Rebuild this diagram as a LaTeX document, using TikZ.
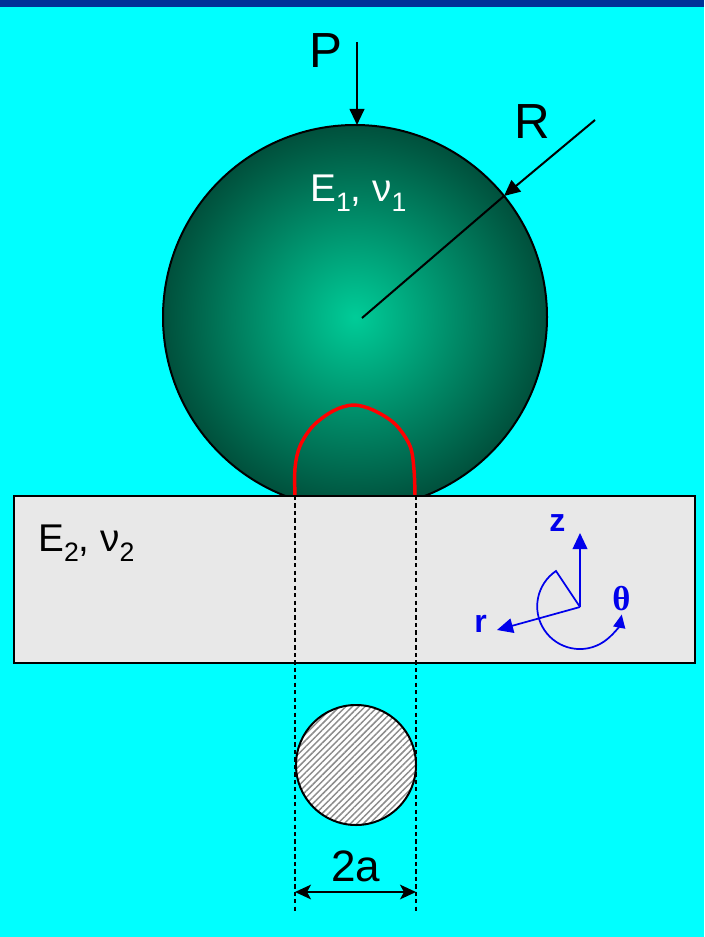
\documentclass[tikz,border=0pt]{standalone}
\usepackage{fontspec}
\setmainfont{Liberation Sans}
\newfontfamily\greekserif{Liberation Serif}
\usetikzlibrary{arrows.meta,patterns.meta}
\definecolor{bgcyan}{RGB}{0,255,255}
\definecolor{topbar}{RGB}{0,51,153}
\definecolor{ballin}{RGB}{0,204,152}
\definecolor{ballout}{RGB}{0,80,60}
\definecolor{slabgray}{RGB}{232,232,232}
\definecolor{axisblue}{RGB}{0,0,235}
% lowered subscript for the material labels
\newcommand\lowsub[1]{\raisebox{-7.5pt}{\fontsize{20}{20}\selectfont #1}}
\begin{document}
\begin{tikzpicture}[x=0.75pt,y=-0.75pt,
  blackline/.style={line width=1.5pt},
  bigtip/.style={-{Triangle[length=12pt,width=11pt]}},
  dimtip/.style={{Stealth[length=12pt,width=11pt,inset=3pt]}-{Stealth[length=12pt,width=11pt,inset=3pt]}},
  guide/.style={line width=1.1pt,dash pattern=on 3.2pt off 2.4pt},
  axis/.style={axisblue,line width=1.3pt,-{Triangle[length=12pt,width=11pt]}},
  biglabel/.style={inner sep=0pt,anchor=base west,font=\fontsize{37}{40}\selectfont},
  matlabel/.style={inner sep=0pt,anchor=base west,font=\fontsize{29}{32}\selectfont},
  axislabel/.style={inner sep=0pt,anchor=base west,text=axisblue,font=\bfseries\fontsize{24}{26}\selectfont}]
% background and top band
\fill[bgcyan] (0,0) rectangle (704,937);
\useasboundingbox (0,0) rectangle (704,937);
\fill[topbar] (0,0) rectangle (704,7);

% key points
\coordinate (C) at (355,317);
\coordinate (Ptop) at (357,42);
\coordinate (Pend) at (357,125);
\coordinate (Rout) at (595,120);
\coordinate (Redge) at (504,196);
\coordinate (Rin) at (362,318);
\coordinate (D) at (356,765);
\coordinate (gLa) at (295,496);
\coordinate (gLb) at (295,912);
\coordinate (gRa) at (416,496);
\coordinate (gRb) at (416,912);
\coordinate (dimL) at (295,892);
\coordinate (dimR) at (416,892);

% sphere
\shade[inner color=ballin, outer color=ballout] (C) circle[radius=144pt];
\draw[blackline] (C) circle[radius=144pt];

% contact zone boundary
\draw[red,line width=2.6pt,line join=round]
  plot[smooth,tension=0.55] coordinates {(295,496) (295,468) (300,446) (313,426) (333,411) (353,405) (373,410) (395,424) (410,446) (414,470) (415,496)};

% flat body
\draw[blackline,fill=slabgray] (14,496) rectangle (695,663);

% load and radius
\draw[blackline,bigtip] (Ptop) -- (Pend);
\node[biglabel] (lblP) at (309,68) {P};
\draw[blackline,bigtip] (Rout) -- (Redge);
\draw[blackline] (Redge) -- (Rin);
\node[biglabel] (lblR) at (514,139) {R};

% material labels
\node[matlabel,text=white] (lblE1) at (310,202) {E\lowsub{1}, ν\lowsub{1}};
\node[matlabel] (lblE2) at (38,551) {E\lowsub{2}, ν\lowsub{2}};

% contact area
\fill[white] (D) circle[radius=45pt];
\fill[pattern={Lines[angle=45,distance=3.4pt,line width=1.1pt]},pattern color=gray!90] (D) circle[radius=45pt];
\draw[blackline] (D) circle[radius=45pt];

% guide lines and width
\draw[guide] (gLa) -- (gLb);
\draw[guide] (gRa) -- (gRb);
\draw[blackline,dimtip] (dimL) -- (dimR);
\node[inner sep=0pt,anchor=base west,font=\fontsize{33}{36}\selectfont] (lbl2a) at (331,881) {2a};

% cylindrical axes
\coordinate (O) at (580,607);
\coordinate (zt) at (580,533);
\coordinate (rt) at (497,630);
\coordinate (w) at (556,571);
\draw[axis] (O) -- (zt);
\draw[axis] (O) -- (rt);
\draw[axisblue,line width=1.3pt,-{Triangle[length=10pt,width=9pt]}]
  (O) -- (w) arc[start angle=124,end angle=349,radius=32pt];
\node[axislabel] (lblz) at (549,531) {z};
\node[axislabel] (lblr) at (474,632) {r};
\node[axislabel,font=\greekserif\bfseries\fontsize{26}{28}\selectfont] (lblt) at (612,610) {θ};
\end{tikzpicture}
\end{document}
